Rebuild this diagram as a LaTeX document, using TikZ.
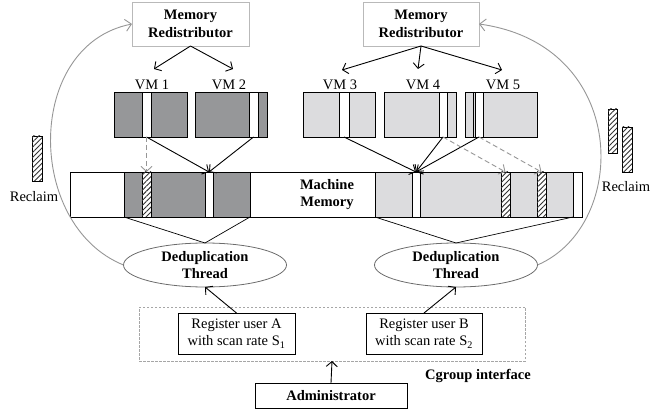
\documentclass[tikz,border=0pt]{standalone}
\usepackage{fontspec}
\setmainfont{Liberation Serif}
\usetikzlibrary{arrows.meta,patterns.meta,shapes.geometric}

\definecolor{vmdark}{RGB}{150,151,153}
\definecolor{vmlight}{RGB}{220,220,222}
\definecolor{curvegray}{RGB}{150,150,150}

\tikzset{
  plain/.style={inner sep=0pt, outer sep=0pt},
  redist/.style={plain, draw=gray!55, line width=0.8pt, fill=white, align=center,
    font=\bfseries\fontsize{14.5}{17.5}\selectfont},
  vmbox/.style={plain, draw=black, line width=0.8pt, minimum height=45pt},
  vmlabel/.style={inner sep=1pt, font=\fontsize{14.5}{16}\selectfont},
  strip/.style={draw=black, line width=0.6pt, fill=white},
  hatch/.style={draw=black, line width=0.7pt, fill=white,
    postaction={pattern={Lines[angle=45,distance=3.6pt,line width=0.9pt]}, pattern color=black!80}},
  dedup/.style={ellipse, plain, draw=gray!85!black, line width=0.8pt, minimum width=163pt,
    minimum height=44pt, align=center, font=\bfseries\fontsize{14.5}{17.5}\selectfont},
  regbox/.style={plain, draw=black, line width=0.8pt, minimum height=41pt, align=center,
    font=\fontsize{14.5}{17.5}\selectfont},
  arr/.style={line width=0.9pt, -{Straight Barb[length=5pt,width=11pt]}},
  dasharr/.style={curvegray, dashed, dash pattern=on 5pt off 3pt, line width=0.9pt,
    -{Straight Barb[length=5pt,width=11pt]}},
  curvearr/.style={curvegray, line width=0.9pt, -{Straight Barb[length=6pt,width=12pt]}},
  thin/.style={line width=0.7pt},
  bodytext/.style={font=\fontsize{14.5}{16}\selectfont},
  boldtext/.style={font=\bfseries\fontsize{14.5}{17.5}\selectfont, align=center},
}

\begin{document}
\begin{tikzpicture}[x=1pt,y=-1pt]
\useasboundingbox (0,0) rectangle (651,414);

% memory redistributors
\node[redist, minimum width=117pt, minimum height=44pt] (mr1) at (190.5,24) {Memory\\Redistributor};
\node[redist, minimum width=116pt, minimum height=44pt] (mr2) at (421,24) {Memory\\Redistributor};

% VM labels
\node[vmlabel] (l1) at (152,85) {VM 1};
\node[vmlabel] (l2) at (229,85) {VM 2};
\node[vmlabel] (l3) at (340,85) {VM 3};
\node[vmlabel] (l4) at (423,85) {VM 4};
\node[vmlabel] (l5) at (503,85) {VM 5};

\coordinate (t1) at (154,69);
\coordinate (t2) at (233,69);
\coordinate (t3) at (342,70);
\coordinate (t4) at (418,69);
\coordinate (t5) at (502,70);
\draw[arr] (mr1.south) -- (t1);
\draw[arr] (mr1.south) -- (t2);
\draw[arr] (mr2.south) -- (t3);
\draw[arr] (mr2.south) -- (t4);
\draw[arr] (mr2.south) -- (t5);

% VM boxes
\node[vmbox, fill=vmdark, minimum width=73pt] (vm1) at (150.5,114.5) {};
\node[vmbox, fill=vmdark, minimum width=72pt] (vm2) at (231,114.5) {};
\node[vmbox, fill=vmlight, minimum width=72pt] (vm3) at (339,114.5) {};
\node[vmbox, fill=vmlight, minimum width=72pt] (vm4) at (420.5,114.5) {};
\node[vmbox, fill=vmlight, minimum width=72pt] (vm5) at (501,114.5) {};

\draw[strip] (142,92) rectangle (151,137);
\draw[strip] (249,92) rectangle (258,137);
\draw[strip] (339,92) rectangle (349,137);
\draw[strip] (439,92) rectangle (447,137);
\draw[strip] (475,92) rectangle (483,137);
\draw[line width=0.6pt] (473,92) -- (473,137);

\coordinate (s1) at (146.5,137);
\coordinate (s2) at (253.5,137);
\coordinate (s3) at (344,137);
\coordinate (s4) at (443,137);
\coordinate (s5) at (479,137);

% machine memory
\node[plain, draw=black, line width=0.8pt, fill=white, minimum width=512pt, minimum height=45pt] (mm) at (326,194.5) {};
\draw[line width=0.6pt, fill=vmdark] (124,172) rectangle (250,217);
\draw[line width=0.6pt, fill=vmlight] (375,172) rectangle (573,217);
\draw[hatch] (142,172) rectangle (151,217);
\draw[strip] (205,172) rectangle (213,217);
\draw[strip] (412,172) rectangle (420,217);
\draw[hatch] (501,172) rectangle (510,217);
\draw[hatch] (537,172) rectangle (546,217);
\node[boldtext] (mmtext) at (327,194.5) {Machine\\Memory};

\coordinate (m1) at (209,172);
\coordinate (m2) at (416,172);
\coordinate (h1) at (146.5,172);
\coordinate (h2) at (505.5,172);
\coordinate (h3) at (541.5,172);

\draw[arr] (s1) -- (m1);
\draw[arr] (s2) -- (m1);
\draw[arr] (s3) -- (m2);
\draw[arr] (s4) -- (m2);
\draw[arr] (s5) -- (m2);
\draw[dasharr] (s1) -- (h1);
\draw[dasharr] (s4) -- (h2);
\draw[dasharr] (s5) -- (h3);

% deduplication threads
\node[dedup] (ded1) at (205,265) {Deduplication\\Thread};
\node[dedup] (ded2) at (456,265) {Deduplication\\Thread};

\coordinate (d1l) at (124,217);
\coordinate (d1r) at (250,217);
\coordinate (d2l) at (375,217);
\coordinate (d2r) at (573,217);
\draw[thin] (d1l) -- (ded1.north) -- (d1r);
\draw[thin] (d2l) -- (ded2.north) -- (d2r);

% feedback curves to the redistributors
\draw[curvearr] (ded1.west) .. controls (25,225) and (25,45) .. (mr1.west);
\draw[curvearr] (ded2.east) .. controls (630,225) and (630,45) .. (mr2.east);

% reclaimed pages
\draw[hatch] (32,136) rectangle (42,181);
\node[bodytext] (rl) at (34,197) {Reclaim};
\draw[hatch] (608,109) rectangle (617,153);
\draw[hatch] (622,127) rectangle (632,172);
\node[bodytext] (rr) at (626,187) {Reclaim};

% cgroup interface
\node[plain, draw=gray!70, dashed, dash pattern=on 2.5pt off 1.5pt, line width=0.7pt,
  minimum width=386pt, minimum height=54pt] (cg) at (332,334) {};
\node[regbox, minimum width=117pt] (ra) at (236.5,333.5) {Register user A\\with scan rate S\textsubscript{1}};
\node[regbox, minimum width=116pt] (rb) at (424,333.5) {Register user B\\with scan rate S\textsubscript{2}};
\draw[arr] (ra.north) -- (ded1.south);
\draw[arr] (rb.north) -- (ded2.south);

\node[boldtext] (cgl) at (478,376) {Cgroup interface};

\node[regbox, font=\bfseries\fontsize{14.5}{17.5}\selectfont, minimum width=152pt, minimum height=25pt] (adm) at (331,395.5) {Administrator};
\draw[arr] (adm.north) -- (cg.south);
\end{tikzpicture}
\end{document}
